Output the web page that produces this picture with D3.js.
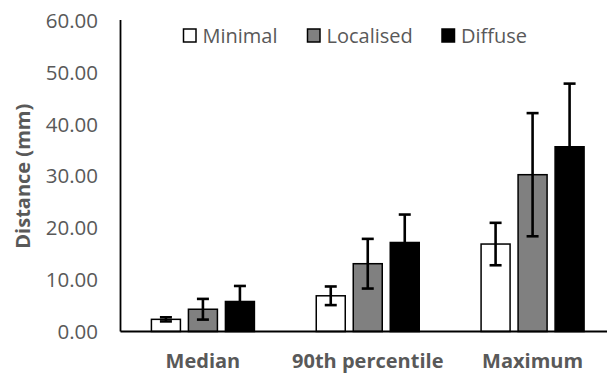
<!DOCTYPE html>
<html><head><meta charset="utf-8">
<script src="https://cdn.jsdelivr.net/npm/d3@7"></script>
<style>body{margin:0;background:#fff}svg{display:block}</style>
</head><body><svg id="c" width="607" height="373"></svg>
<script>
const categories = ["Median", "90th percentile", "Maximum"];
const seriesNames = ["Minimal", "Localised", "Diffuse"];
const seriesColors = ["#ffffff", "#808080", "#000000"];
const minimalVals = [2.35, 6.9, 16.9];
const localisedVals = [4.3, 13.1, 30.3];
const diffuseVals = [5.8, 17.2, 35.7];
const minimalErr = [0.4, 1.8, 4.1];
const localisedErr = [2.0, 4.8, 11.9];
const diffuseErr = [3.0, 5.4, 12.2];
const yTicks = [0, 10, 20, 30, 40, 50, 60];

(function () {
const values = [minimalVals, localisedVals, diffuseVals];
const errs = [minimalErr, localisedErr, diffuseErr];

const svg = d3.select("#c");
const mLeft = 120.5, mRight = 615, mTop = 21, mBottom = 331.5;
const x = d3.scaleBand().domain(categories).range([mLeft, mRight]).paddingInner(0).paddingOuter(0);
const y = d3.scaleLinear().domain([0, 60]).range([mBottom, mTop]);
const bw = 29, step = 37;

const font = "'Open Sans', sans-serif";

svg.append("g").selectAll("text").data(yTicks).join("text")
  .attr("x", 98).attr("y", d => y(d)).attr("dy", "0.35em")
  .attr("text-anchor", "end").attr("font-family", font).attr("font-size", 20.5)
  .attr("fill", "#595959").text(d => d.toFixed(2));

seriesNames.forEach((s, si) => {
  const g = svg.append("g");
  categories.forEach((c, ci) => {
    const cx = x(c) + x.bandwidth() / 2 + (si - 1) * step;
    const v = values[si][ci];
    g.append("rect").attr("x", cx - bw / 2).attr("y", y(v))
      .attr("width", bw).attr("height", y(0) - y(v))
      .attr("fill", seriesColors[si]).attr("stroke", "#000").attr("stroke-width", 1.5);
  });
});
seriesNames.forEach((s, si) => {
  const g = svg.append("g").attr("stroke", "#000").attr("stroke-width", 2.6);
  categories.forEach((c, ci) => {
    const cx = x(c) + x.bandwidth() / 2 + (si - 1) * step;
    const v = values[si][ci], e = errs[si][ci];
    g.append("line").attr("x1", cx).attr("x2", cx).attr("y1", y(v + e)).attr("y2", y(v - e));
    g.append("line").attr("x1", cx - 6).attr("x2", cx + 6).attr("y1", y(v + e)).attr("y2", y(v + e));
    g.append("line").attr("x1", cx - 6).attr("x2", cx + 6).attr("y1", y(v - e)).attr("y2", y(v - e));
  });
});

svg.append("line").attr("x1", mLeft).attr("x2", mLeft).attr("y1", mTop - 1).attr("y2", mBottom)
  .attr("stroke", "#000").attr("stroke-width", 1.8);
svg.append("line").attr("x1", mLeft).attr("x2", 607).attr("y1", mBottom).attr("y2", mBottom)
  .attr("stroke", "#000").attr("stroke-width", 1.8);

svg.append("g").selectAll("text").data(categories).join("text")
  .attr("x", d => x(d) + x.bandwidth() / 2).attr("y", 367.5)
  .attr("text-anchor", "middle").attr("font-family", font).attr("font-size", 20)
  .attr("font-weight", "bold").attr("fill", "#595959").text(d => d);

svg.append("text").attr("transform", `translate(30,${(mTop + mBottom) / 2}) rotate(-90)`)
  .attr("text-anchor", "middle").attr("font-family", font).attr("font-size", 20)
  .attr("font-weight", "bold").attr("fill", "#595959").text("Distance (mm)");

const legX = [183.5, 307.5, 442];
seriesNames.forEach((s, si) => {
  svg.append("rect").attr("x", legX[si]).attr("y", 29).attr("width", 12.5).attr("height", 13)
    .attr("fill", seriesColors[si]).attr("stroke", "#000").attr("stroke-width", 1.5);
  svg.append("text").attr("x", legX[si] + 19).attr("y", 35.5).attr("dy", "0.35em")
    .attr("font-family", font).attr("font-size", 20).attr("fill", "#595959").text(s);
});
})();
</script></body></html>
